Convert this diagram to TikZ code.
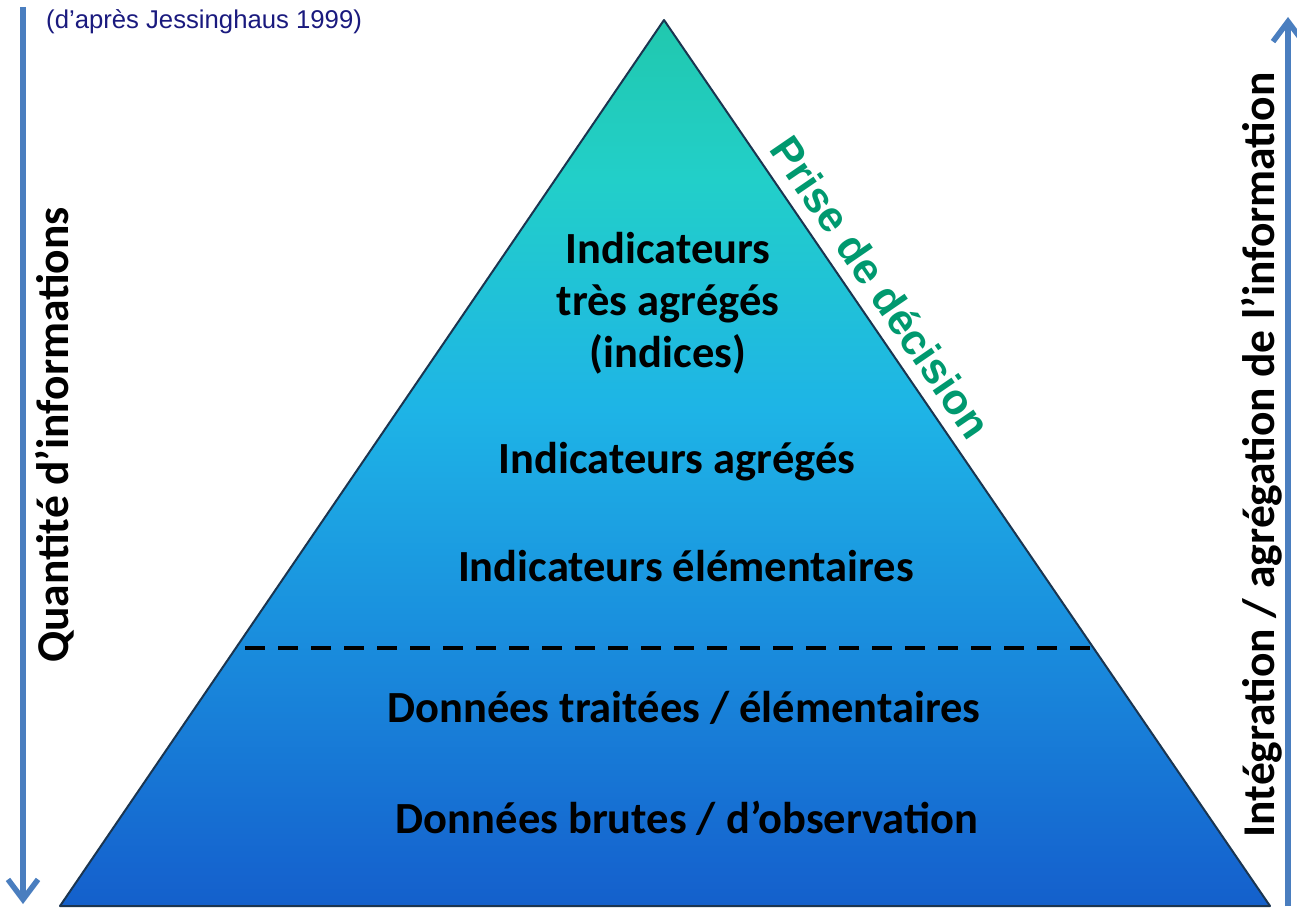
\documentclass[tikz,border=0pt]{standalone}
\usepackage{fontspec}
\setmainfont{Carlito}
\newfontfamily\arialfont{Liberation Sans}
\usetikzlibrary{arrows.meta,positioning}

\definecolor{pyrtop}{HTML}{21C8AE}
\definecolor{pyrteal}{HTML}{22CFC9}
\definecolor{pyrupper}{HTML}{1EB4E6}
\definecolor{pyrmid}{HTML}{1A90DE}
\definecolor{pyrlow}{HTML}{1565CF}
\definecolor{pyrbot}{HTML}{1460CB}
\definecolor{arrowblue}{HTML}{4A7EBF}
\definecolor{decisiongreen}{HTML}{00996F}
\definecolor{sourcenavy}{HTML}{1A1A7E}
\definecolor{edgedark}{HTML}{1B3550}

\pgfdeclareverticalshading{pyramid}{100bp}{color(0bp)=(pyrbot); color(25bp)=(pyrbot);
  color(27bp)=(pyrlow); color(41bp)=(pyrmid); color(53bp)=(pyrupper); color(66bp)=(pyrteal);
  color(75bp)=(pyrtop); color(100bp)=(pyrtop)}

\tikzset{
  level/.style={font=\fontsize{44.5}{52}\selectfont\bfseries,align=center,inner sep=0pt},
  side/.style={font=\fontsize{45.5}{52}\selectfont\bfseries,rotate=90,inner sep=0pt},
  flow/.style={draw=arrowblue,line width=5.5pt,-{Straight Barb[length=20pt,width=30pt]}},
}

\begin{document}
\begin{tikzpicture}[x=1pt,y=-1pt]
    \useasboundingbox (0,0) rectangle (1297,912);
    \coordinate (apex) at (664,20);
    \coordinate (bl) at (60,906);
    \coordinate (br) at (1270,906);
    % pyramid
    \fill [shading=pyramid] (apex) -- (br) -- (bl) -- cycle;
    \draw [edgedark,line width=2pt,line join=round] (apex) -- (br) -- (bl) -- cycle;
    \coordinate (dashL) at (245,648);
    \coordinate (dashR) at (1095,648);
    \draw [line width=4pt,dash pattern=on 20pt off 13pt] (dashL) -- (dashR);
    % levels
    \node [level] (indices) at (668,303) {Indicateurs\\très agrégés\\(indices)};
    \node [level] (agreges) at (677,462) {Indicateurs agrégés};
    \node [level] (elementaires) at (686,566) {Indicateurs élémentaires};
    \node [level] (traitees) at (684,708) {Données traitées / élémentaires};
    \node [level] (brutes) at (687,818) {Données brutes / d’observation};
    \node [font=\arialfont\fontsize{43}{50}\selectfont\bfseries,text=decisiongreen,
        rotate=-55.6,inner sep=0pt] (decision) at (881,287) {Prise de décision};
    % side arrows
    \coordinate (qtop) at (23,7);
    \coordinate (qbot) at (23,904);
    \draw [flow] (qtop) -- (qbot);
    \coordinate (ibot) at (1288,906);
    \coordinate (itop) at (1288,17);
    \draw [flow] (ibot) -- (itop);
    \node [side] (quantite) at (55,435) {Quantité d’informations};
    \node [side] (integration) at (1262,455) {Intégration / agrégation de l’information};
    \node [font=\arialfont\fontsize{25.7}{30}\selectfont,text=sourcenavy,anchor=west,
        inner sep=0pt] (source) at (46,22) {(d’après Jessinghaus 1999)};
\end{tikzpicture}
\end{document}
